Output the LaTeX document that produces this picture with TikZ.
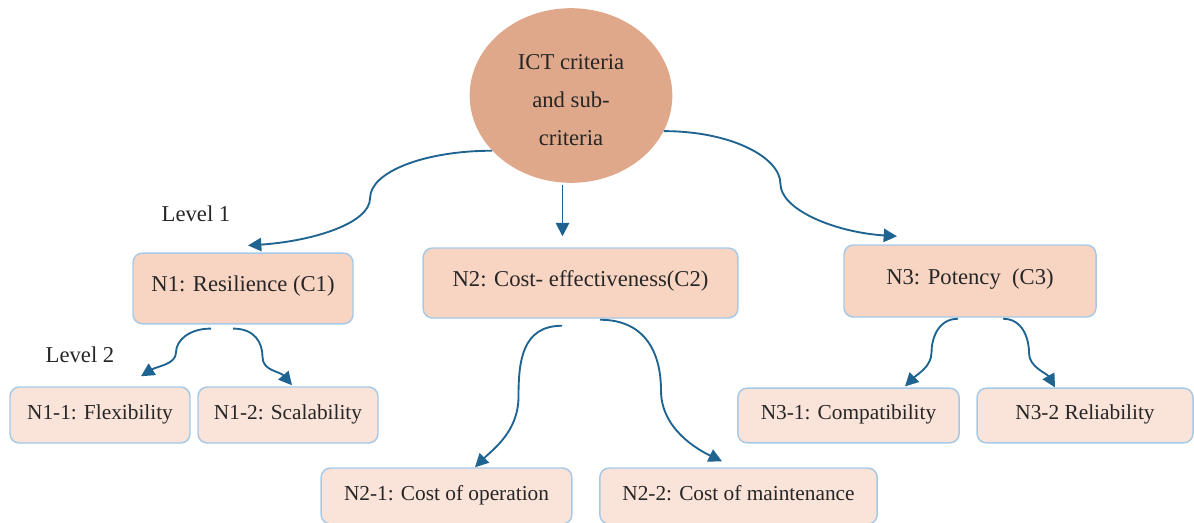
\documentclass[tikz,border=0pt]{standalone}
\usepackage{fontspec}
\setmainfont{Liberation Serif}
\usetikzlibrary{calc,arrows.meta,shapes.geometric}
\definecolor{ellfill}{HTML}{DFA88A}
\definecolor{boxA}{HTML}{F8D5C2}
\definecolor{boxB}{HTML}{FAE3D8}
\definecolor{bord}{HTML}{A7C9E8}
\definecolor{arr}{HTML}{1F6490}
\definecolor{txt}{HTML}{262626}
\begin{document}
\begin{tikzpicture}[x=0.75pt,y=-0.75pt,
  every node/.style={font=\fontsize{17}{20}\selectfont, text=txt},
  boxbase/.style={draw=bord, line width=1.1pt, rounded corners=7pt, inner sep=0pt},
  lvlA/.style={boxbase, fill=boxA, text height=12pt, text depth=7.5pt},
  lvlB/.style={boxbase, fill=boxB, text height=12pt, text depth=6pt, font=\fontsize{16}{19}\selectfont},
  conn/.style={draw=arr, line width=1.4pt, -{Triangle[length=10pt,width=10pt]}},
]
\useasboundingbox (0,0) rectangle (1194,522);

% root
\node (ict) [ellipse, fill=ellfill, inner sep=0pt, minimum width=152pt, minimum height=131pt,
  align=center, font=\fontsize{17}{28.5}\selectfont] at (571,95.5)
  {\rule{0pt}{18.5pt}ICT criteria\\ and sub-\\ criteria};

% level 1
\node (n1) [lvlA, minimum width=165pt, minimum height=53pt] at (243,288.5) {N1: Resilience (C1)};
\node (n2) [lvlA, minimum width=236pt, minimum height=52.5pt] at (580.5,283) {N2: Cost- effectiveness(C2)};
\node (n3) [lvlA, minimum width=189pt, minimum height=54pt] at (970,281) {N3: Potency\enspace(C3)};

% level 2
\node (n11) [lvlB, minimum width=135pt, minimum height=42pt] at (100,415) {N1-1: Flexibility};
\node (n12) [lvlB, minimum width=135pt, minimum height=42pt] at (288,415) {N1-2: Scalability};
\node (n21) [lvlB, minimum width=188pt, minimum height=42pt] at (446.5,496) {N2-1: Cost of operation};
\node (n22) [lvlB, minimum width=208pt, minimum height=42pt] at (738.5,496) {N2-2: Cost of maintenance};
\node (n31) [lvlB, minimum width=166pt, minimum height=41pt] at (848.5,415.5) {N3-1: Compatibility};
\node (n32) [lvlB, minimum width=162pt, minimum height=41pt] at (1085,415.5) {N3-2 Reliability};

% level labels
\node (lv1) at (196,214) {Level 1};
\node (lv2) at (80,355) {Level 2};

% connector end points
\coordinate (s1) at (ict.215);
\coordinate (e1) at ($(n1.north)+(5,-7)$);
\coordinate (s3) at (ict.339);
\coordinate (e3) at ($(n3.north)+(-73,-8)$);
\coordinate (e2) at ($(n2.north)+(-18,-11)$);

\coordinate (s11) at ($(n1.south)+(-32,4)$);
\coordinate (e11) at ($(n11.north)+(41,-10)$);
\coordinate (s12) at ($(n1.south)+(-10,4)$);
\coordinate (e12) at ($(n12.north)+(4,-1)$);

\coordinate (s21) at ($(n2.south)+(-18.5,7)$);
\coordinate (e21) at ($(n21.north)+(28.5,0)$);
\coordinate (s22) at ($(n2.south)+(19.5,1)$);
\coordinate (e22) at ($(n22.north)+(-16.5,-6)$);

\coordinate (s31) at ($(n3.south)+(-12,1)$);
\coordinate (e31) at ($(n31.north)+(56.5,-1)$);
\coordinate (s32) at ($(n3.south)+(33,1)$);
\coordinate (e32) at ($(n32.north)+(-30,0)$);

% root connectors
\draw[conn] (s1) .. controls +(-68,0) and +(0,-26) .. ($(s1)!.5!(e1)$)
                 .. controls +(0,26) and +(62,-4) .. (e1);
\draw[conn] ($(ict.south -| e2)+(0,2)$) -- (e2);
\draw[conn] (s3) .. controls +(68,0) and +(0,-26) .. ($(s3)!.5!(e3)$)
                 .. controls +(0,26) and +(-62,-4) .. (e3);

% level 2 connectors
\draw[conn] (s11) .. controls +(-22,0) and +(0,-12) .. ($(s11)!.5!(e11)$)
                  .. controls +(0,12) and +(16,-10) .. (e11);
\draw[conn] (s12) .. controls +(22,0) and +(0,-14) .. ($(s12)!.5!(e12)$)
                  .. controls +(0,14) and +(-12,-14) .. (e12);

\draw[conn] (s21) .. controls +(-40,0) and +(0,-35) .. ($(s21)!.5!(e21)$)
                  .. controls +(0,35) and +(18,-18) .. (e21);
\draw[conn] (s22) .. controls +(45,0) and +(0,-38) .. ($(s22)!.5!(e22)$)
                  .. controls +(0,38) and +(-25,-12) .. (e22);

\draw[conn] (s31) .. controls +(-20,0) and +(0,-14) .. ($(s31)!.5!(e31)$)
                  .. controls +(0,14) and +(12,-12) .. (e31);
\draw[conn] (s32) .. controls +(20,0) and +(0,-14) .. ($(s32)!.5!(e32)$)
                  .. controls +(0,14) and +(-8,-14) .. (e32);
\end{tikzpicture}
\end{document}
